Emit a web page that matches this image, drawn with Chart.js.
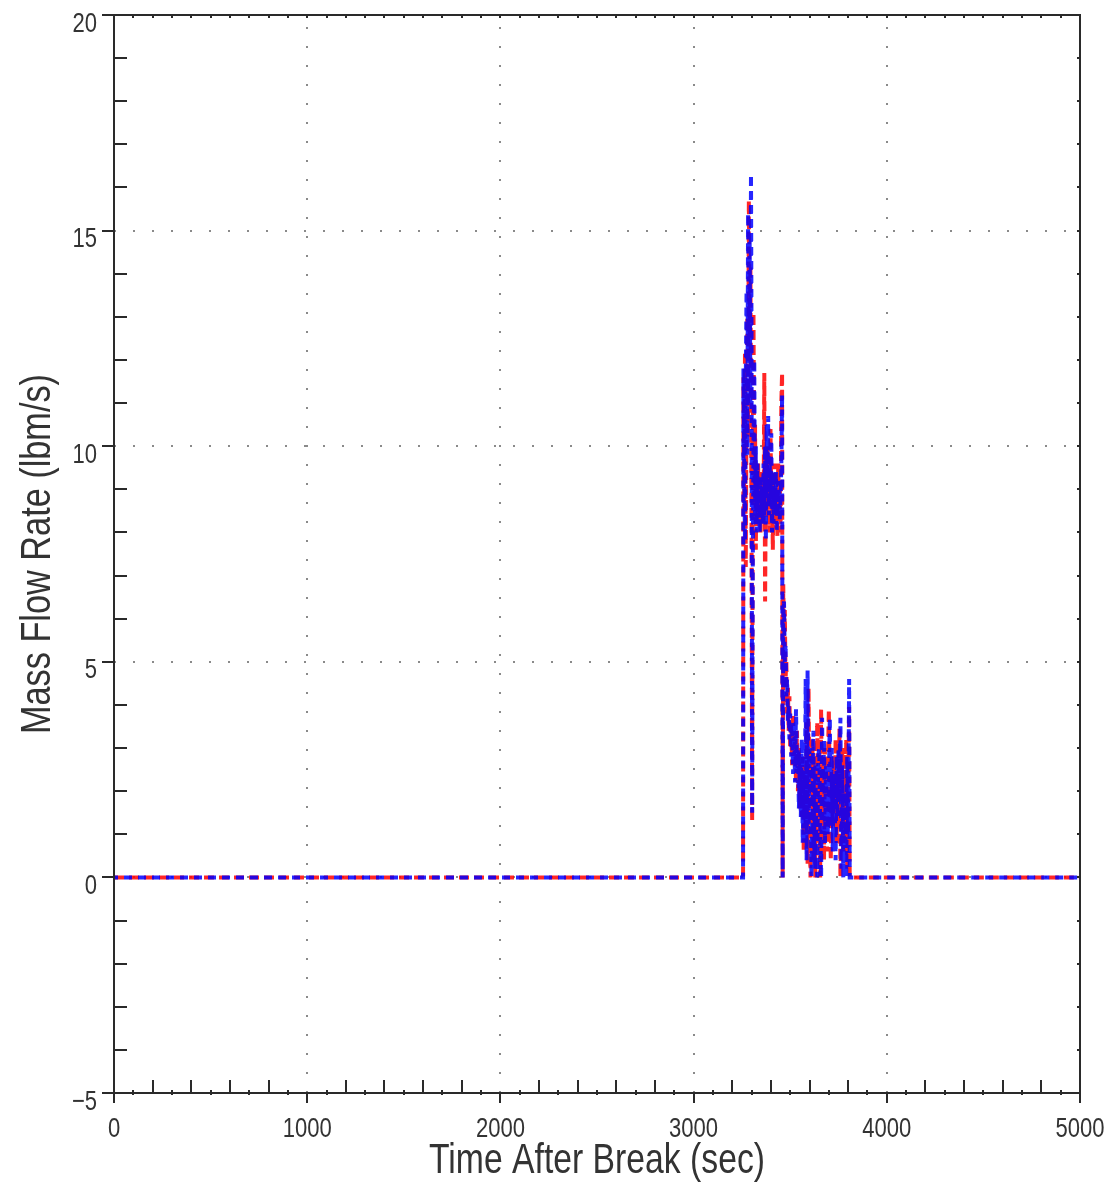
<!DOCTYPE html>
<html><head><meta charset="utf-8">
<script src="https://cdn.jsdelivr.net/npm/chart.js@4/dist/chart.umd.min.js"></script>
<style>html,body{margin:0;padding:0;background:#fff}#wrap{width:1110px;height:1186px}</style>
</head><body><div id="wrap"><canvas id="c" width="1110" height="1186"></canvas></div>
<script>
const times = [0,3250,3256,3258,3262,3266,3270,3274,3278,3282,3286,3290,3294,3297,3300,3303,3306,3310,3314,3318,3322,3326,3330,3334,3338,3342,3346,3350,3354,3358,3362,3366,3370,3374,3378,3382,3386,3390,3394,3398,3402,3406,3410,3414,3418,3422,3426,3430,3434,3438,3442,3446,3450,3454,3458,3461,3464,3468,3472,3476,3480,3484,3488,3492,3496,3500,3505,3510,3515,3520,3525,3530,3535,3540,3545,3550,3555,3560,3565,3570,3575,3580,3585,3590,3595,3600,3605,3610,3615,3620,3625,3630,3635,3640,3645,3650,3655,3660,3665,3670,3675,3680,3685,3690,3695,3700,3705,3710,3715,3720,3725,3730,3735,3740,3745,3750,3755,3760,3765,3770,3775,3780,3785,3790,3795,3800,3805,3808,5000];
const redFlow = [0,0,0,11.6,8.5,12.2,7.2,11.0,13.0,10.2,15.7,12.5,14.2,11.0,8.0,1.3,9.5,13.1,8.8,10.5,7.6,9.4,8.2,9.6,8.4,9.0,8.0,9.4,8.6,9.2,8.2,11.7,6.4,9.0,8.4,10.0,8.6,9.4,8.0,10.4,8.8,9.6,7.6,9.2,8.4,9.6,8.2,8.8,7.9,9.6,8.5,9.2,8.0,11.0,11.7,0.0,6.8,5.6,6.2,4.6,5.0,3.8,4.4,3.4,4.2,3.0,3.6,2.6,3.8,2.8,3.2,2.2,3.4,2.0,3.0,1.6,2.6,1.4,2.8,0.6,2.4,1.0,3.6,0.3,4.4,1.4,0.0,2.6,3.2,0.4,2.8,0.0,2.2,3.6,0.8,2.4,0.0,3.9,1.2,2.8,0.4,3.0,1.6,0.6,2.6,3.9,1.8,0.4,2.4,1.2,2.8,1.6,3.2,0.8,2.2,1.2,3.45,0.0,2.0,3.0,0.6,2.4,1.0,3.2,0.2,2.0,3.95,0,0];
const blueFlow = [0,0,0,11.8,9.5,7.8,11.5,13.6,9.8,15.4,12.0,14.8,11.0,16.3,12.5,1.5,7.0,10.2,12.0,8.2,10.0,8.0,9.6,8.4,9.2,8.0,9.3,8.4,9.0,8.2,9.6,8.4,10.0,7.8,10.5,8.8,10.7,8.4,9.6,8.6,10.3,8.0,9.4,8.2,9.0,8.6,9.4,8.0,9.0,8.4,9.2,8.3,8.8,9.5,11.2,0.0,6.0,6.4,5.0,5.4,4.2,4.6,3.6,4.0,3.2,3.8,2.8,3.4,2.4,3.6,2.2,3.9,2.6,3.0,1.6,2.8,1.4,3.2,0.8,2.4,1.2,4.6,0.4,4.8,1.0,3.0,2.2,0.0,1.8,3.4,0.2,2.6,1.0,0.0,2.8,3.0,1.4,0.0,3.7,1.6,3.2,0.8,2.6,2.0,1.0,2.2,3.7,1.2,3.0,0.6,2.4,1.8,0.4,2.8,1.4,3.0,1.8,3.7,0.2,2.6,0.0,2.0,1.2,0.0,2.8,1.0,4.6,0,0];
const xTickValues = [0,1000,2000,3000,4000,5000];
const xTickLabels = ['0','1000','2000','3000','4000','5000'];
const yTickValues = [-5,0,5,10,15,20];
const yTickLabels = ['\u22125','0','5','10','15','20'];
const xTitle = 'Time After Break (sec)';
const yTitle = 'Mass Flow Rate (lbm/s)';

const FONT = "'Liberation Sans','DejaVu Sans Condensed',sans-serif";
const pts = (vals) => times.map((t, i) => ({x: t, y: vals[i]}));

function fitScale(ctx, text, size, targetWidth) {
  ctx.save();
  ctx.font = size + 'px ' + FONT;
  const w = ctx.measureText(text).width;
  ctx.restore();
  return w > 0 ? targetWidth / w : 1;
}

function narrowText(ctx, text, x, y, size, sx, align, rot) {
  ctx.save();
  ctx.translate(x, y);
  if (rot) ctx.rotate(rot);
  ctx.scale(sx, 1);
  ctx.font = size + 'px ' + FONT;
  ctx.textAlign = align;
  ctx.textBaseline = 'alphabetic';
  ctx.fillText(text, 0, 0);
  ctx.restore();
}

const axesPlugin = {
  id: 'axesPlugin',
  beforeDatasetsDraw(chart) {
    const {ctx, chartArea: a, scales: {x, y}} = chart;
    ctx.save();
    ctx.strokeStyle = '#8a8a8a';
    ctx.lineWidth = 2;
    ctx.setLineDash([2, 17]);
    for (const t of [1000, 2000, 3000, 4000]) {
      const px = Math.round(x.getPixelForValue(t));
      ctx.beginPath(); ctx.moveTo(px, a.bottom); ctx.lineTo(px, a.top); ctx.stroke();
    }
    for (const v of [0, 5, 10, 15]) {
      const py = Math.round(y.getPixelForValue(v));
      ctx.beginPath(); ctx.moveTo(a.left, py); ctx.lineTo(a.right, py); ctx.stroke();
    }
    ctx.restore();
  },
  afterDatasetsDraw(chart) {
    const {ctx, chartArea: a, scales: {x, y}} = chart;
    ctx.save();
    ctx.strokeStyle = '#2a2a2a';
    ctx.lineWidth = 2;
    ctx.setLineDash([]);
    ctx.strokeRect(a.left, a.top, a.right - a.left, a.bottom - a.top);
    ctx.beginPath();
    for (let v = -5; v <= 20; v++) {
      const py = Math.round(y.getPixelForValue(v));
      if (v % 5 === 0) { ctx.moveTo(a.left - 12, py); ctx.lineTo(a.left, py); }
      else { ctx.moveTo(a.left, py); ctx.lineTo(a.left + 13, py); }
      ctx.moveTo(a.right, py); ctx.lineTo(a.right - 3, py);
    }
    for (let t = 0; t <= 5000; t += 100) {
      const px = Math.round(x.getPixelForValue(t));
      if (t % 1000 === 0) { ctx.moveTo(px, a.bottom); ctx.lineTo(px, a.bottom + 10); }
      else if (t % 200 === 0) { ctx.moveTo(px, a.bottom); ctx.lineTo(px, a.bottom - 13); }
      else { ctx.moveTo(px, a.bottom + 2); ctx.lineTo(px, a.bottom - 3); }
      ctx.moveTo(px, a.top); ctx.lineTo(px, a.top + 3);
    }
    ctx.stroke();
    ctx.fillStyle = '#333';
    const tickSize = 28;
    const tickScale = fitScale(ctx, '1000', tickSize, 49);
    xTickValues.forEach((v, i) => {
      narrowText(ctx, xTickLabels[i], x.getPixelForValue(v), a.bottom + 44, tickSize, tickScale, 'center', 0);
    });
    yTickValues.forEach((v, i) => {
      narrowText(ctx, yTickLabels[i], a.left - 17, y.getPixelForValue(v) + 16.5, tickSize, tickScale, 'right', 0);
    });
    const titleSize = 42;
    narrowText(ctx, xTitle, (a.left + a.right) / 2, 1173, titleSize, fitScale(ctx, xTitle, titleSize, 336), 'center', 0);
    narrowText(ctx, yTitle, 50, (a.top + a.bottom) / 2, titleSize, fitScale(ctx, yTitle, titleSize, 360), 'center', -Math.PI / 2);
    ctx.restore();
  }
};

new Chart(document.getElementById('c'), {
  type: 'line',
  data: {
    datasets: [
      {label: 'blue', data: pts(blueFlow), borderColor: 'rgba(0,0,255,0.85)', borderWidth: 4, borderDash: [8, 6], borderDashOffset: 4, pointRadius: 0, tension: 0, fill: false},
      {label: 'red', data: pts(redFlow), borderColor: 'rgba(255,0,0,0.85)', borderWidth: 4, borderDash: [10, 5], pointRadius: 0, tension: 0, fill: false}
    ]
  },
  options: {
    responsive: false,
    animation: false,
    devicePixelRatio: 1,
    layout: {padding: {top: 15, right: 30, left: 0, bottom: 0}},
    plugins: {legend: {display: false}, tooltip: {enabled: false}},
    scales: {
      x: {
        type: 'linear', min: 0, max: 5000,
        afterFit: (s) => { s.height = 93; },
        grid: {display: false, drawTicks: false},
        border: {display: false},
        ticks: {display: false, stepSize: 1000},
        title: {display: false}
      },
      y: {
        type: 'linear', min: -5, max: 20,
        afterFit: (s) => { s.width = 114; },
        grid: {display: false, drawTicks: false},
        border: {display: false},
        ticks: {display: false, stepSize: 5},
        title: {display: false}
      }
    }
  },
  plugins: [axesPlugin]
});
</script></body></html>
